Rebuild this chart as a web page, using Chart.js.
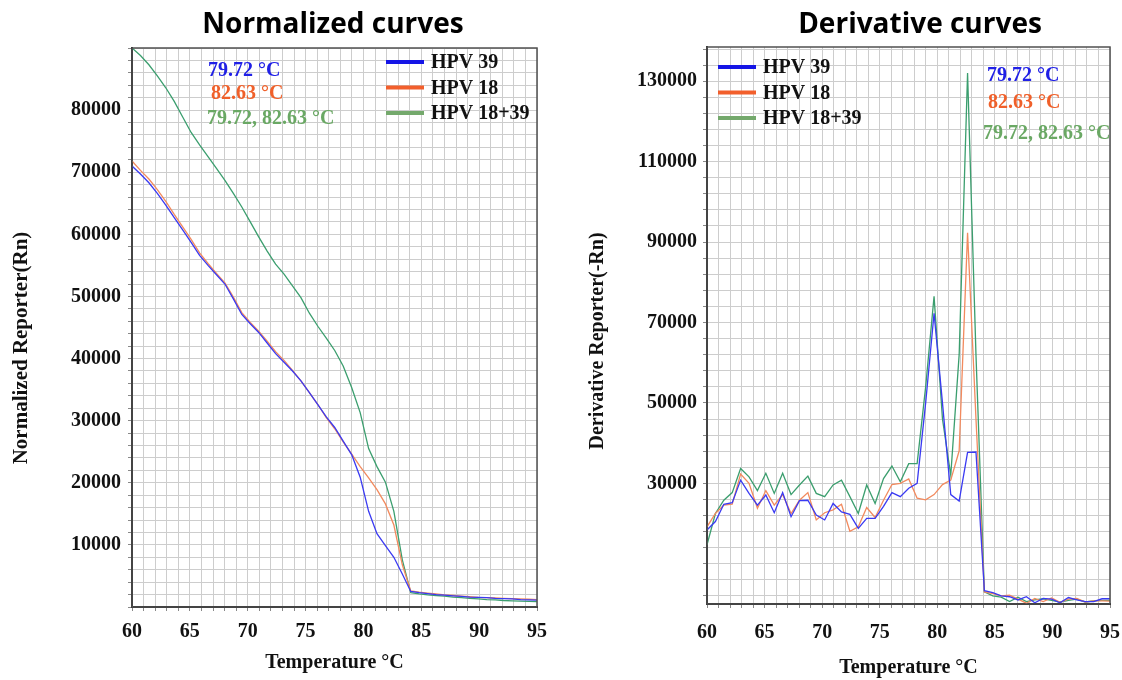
<!DOCTYPE html>
<html>
<head>
<meta charset="utf-8">
<script src="https://cdn.jsdelivr.net/npm/chart.js@4.4.1/dist/chart.umd.min.js"></script>
<style>
  body { margin: 0; background: #fff; }
  #wrap { position: relative; width: 1122px; height: 680px; }
  canvas { position: absolute; top: 0; }
  #norm-chart { left: 0; }
  #deriv-chart { left: 560px; }
</style>
</head>
<body>
<div id="wrap">
  <canvas id="norm-chart" width="560" height="680"></canvas>
  <canvas id="deriv-chart" width="562" height="680"></canvas>
</div>
<script>
// melt temperatures (°C)
const temps = [
  60.00, 60.73, 61.46, 62.19, 62.92, 63.65, 64.38, 65.11, 65.84, 66.57,
  67.30, 68.03, 68.76, 69.49, 70.22, 70.95, 71.68, 72.41, 73.14, 73.87,
  74.60, 75.33, 76.06, 76.79, 77.52, 78.25, 78.99, 79.72, 80.45, 81.17,
  81.90, 82.63, 83.36, 84.09, 84.82, 85.55, 86.28, 87.01, 87.74, 88.47,
  89.20, 89.93, 90.66, 91.39, 92.12, 92.85, 93.58, 94.31, 95.00,
];

const seriesNames = ["HPV 39", "HPV 18", "HPV 18+39"];
const tmLabels = ["79.72 °C", "82.63 °C", "79.72, 82.63 °C"];

// normalized reporter (Rn)
const normHpv39 = [
  71000, 69700, 68300, 66600, 64700, 62700, 60700, 58700, 56600, 55000,
  53500, 52000, 49600, 47100, 45600, 44200, 42500, 40800, 39400, 38000,
  36400, 34500, 32600, 30600, 28900, 26700, 24500, 20900, 15400, 11800,
  9900, 8000, 5300, 2500, 2300, 2150, 2000, 1900, 1800, 1700,
  1600, 1550, 1500, 1400, 1350, 1300, 1200, 1150, 1100,
];
const normHpv18 = [
  71800, 70300, 68900, 67200, 65300, 63200, 61200, 59200, 57000, 55300,
  53700, 52200, 49900, 47400, 45800, 44400, 42800, 41100, 39700, 38100,
  36400, 34500, 32600, 30500, 28700, 26600, 24600, 22600, 20800, 18900,
  16600, 13200, 6800, 2600, 2400, 2250, 2100, 1950, 1850, 1750,
  1650, 1550, 1500, 1450, 1400, 1350, 1300, 1250, 1200,
];
const normHpv1839 = [
  90000, 88800, 87300, 85500, 83600, 81400, 78900, 76400, 74400, 72500,
  70600, 68700, 66600, 64400, 62000, 59600, 57300, 55200, 53600, 51700,
  49800, 47300, 45200, 43300, 41300, 38800, 35300, 31300, 25500, 22600,
  20100, 15400, 7600, 2300, 2100, 1950, 1850, 1750, 1600, 1500,
  1400, 1300, 1200, 1150, 1050, 1000, 950, 900, 850,
];

// derivative reporter (-Rn)
const derivHpv39 = [
  18400, 20500, 24800, 25200, 30800, 27500, 24600, 27100, 22700, 27700,
  21700, 25700, 25800, 22100, 20900, 25000, 22900, 22300, 18800, 21300,
  21300, 24300, 27700, 26700, 28800, 30000, 50000, 72300, 50000, 27200,
  25600, 37700, 37800, 3300, 2800, 2000, 1800, 1000, 1800, 300,
  1400, 1200, 300, 1600, 1000, 600, 600, 1300, 1300,
];
const derivHpv18 = [
  19200, 22500, 24600, 24800, 32300, 30000, 23800, 28200, 24600, 27200,
  22500, 25800, 27700, 20900, 22700, 23400, 24800, 18100, 19200, 24000,
  21500, 25800, 29700, 30000, 31100, 26300, 25900, 27200, 29700, 30800,
  38100, 92300, 46000, 3000, 2600, 2000, 2200, 1200, 200, 1400,
  600, 1500, 400, 1200, 1400, 500, 800, 800, 700,
];
const derivHpv1839 = [
  14700, 22500, 25800, 27700, 33700, 31600, 28200, 32500, 27500, 32500,
  27200, 29600, 31800, 27500, 26700, 29600, 30800, 26700, 22500, 29600,
  25000, 31200, 34300, 30400, 34900, 34900, 54000, 76500, 46000, 32000,
  62000, 132000, 62000, 3000, 2000, 1700, 600, 1700, 600, 1000,
  1300, 900, 500, 900, 1200, 500, 800, 900, 900,
];

const xTickLabels = [60, 65, 70, 75, 80, 85, 90, 95];
const normTickLabels = [10000, 20000, 30000, 40000, 50000, 60000, 70000, 80000];
const derivTickLabels = [30000, 50000, 70000, 90000, 110000, 130000];

const lineColors = ["#3a3af2", "#f28a5e", "#3b9e6e"];
const keyColors = ["#1515e6", "#f25f2c", "#74a96c"];
const textColors = ["#2020e6", "#f0602a", "#6aa864"];
const gridColor = "#cdcdcd";
const serif = "'Liberation Serif', 'Times New Roman', serif";

function toPoints(values) {
  return values.map((v, i) => ({ x: temps[i], y: v }));
}

// titles, axis caption, key and Tm notes drawn over the plot
const panelText = {
  id: "panelText",
  afterDraw(chart, args, o) {
    const ctx = chart.ctx;
    const a = chart.chartArea;
    ctx.save();
    ctx.strokeStyle = "#505050";
    ctx.lineWidth = 1.5;
    ctx.strokeRect(a.left, a.top, a.right - a.left, a.bottom - a.top);

    ctx.fillStyle = "#000";
    ctx.textBaseline = "middle";
    ctx.textAlign = "center";
    ctx.font = "bold 28px 'Open Sans', sans-serif";
    ctx.fillText(o.title, o.titleX, o.titleY);

    ctx.save();
    ctx.translate(o.yTitleX, o.yTitleY);
    ctx.rotate(-Math.PI / 2);
    ctx.font = "bold " + o.yTitleSize + "px " + serif;
    ctx.fillStyle = "#111";
    ctx.fillText(o.yTitle, 0, 0);
    ctx.restore();

    ctx.textAlign = "left";
    ctx.font = "bold 20px " + serif;
    chart.data.datasets.forEach((ds, i) => {
      const y = o.keyY + i * o.keyGap;
      ctx.strokeStyle = keyColors[i];
      ctx.lineWidth = 4;
      ctx.beginPath();
      ctx.moveTo(o.keyX, y);
      ctx.lineTo(o.keyX + 38, y);
      ctx.stroke();
      ctx.fillStyle = "#111";
      ctx.fillText(ds.label, o.keyX + 45, y + 1);
    });

    tmLabels.forEach((t, i) => {
      ctx.fillStyle = textColors[i];
      ctx.fillText(t, o.tmX[i], o.tmY[i]);
    });
    ctx.restore();
  },
};

const tickFont = { family: serif, size: 20, weight: "bold" };

function makeChart(el, series, yScale, layout, text) {
  return new Chart(el, {
    type: "line",
    data: {
      datasets: series.map((vals, i) => ({
        label: seriesNames[i],
        data: toPoints(vals),
        borderColor: lineColors[i],
        borderWidth: 1.3,
        pointRadius: 0,
        tension: 0,
      })),
    },
    options: {
      responsive: false,
      animation: false,
      layout: { padding: layout.padding },
      plugins: {
        legend: { display: false },
        tooltip: { enabled: false },
        panelText: text,
      },
      scales: {
        x: {
          type: "linear",
          min: 60,
          max: 95,
          afterFit: (s) => {
            s.height = layout.xHeight;
            // end labels may spill past the plot edges
            s.paddingLeft = 0;
            s.paddingRight = 0;
          },
          grid: { color: gridColor, lineWidth: 1, tickLength: 4, tickColor: "#888" },
          border: { color: "#222", width: 2 },
          ticks: {
            stepSize: 1,
            autoSkip: false,
            maxRotation: 0,
            padding: layout.xPad,
            color: "#111",
            font: tickFont,
            callback: (v) => (xTickLabels.includes(v) ? String(v) : ""),
          },
          title: {
            display: true,
            text: "Temperature °C",
            color: "#111",
            font: tickFont,
            padding: { top: 0, bottom: layout.xTitlePad },
          },
        },
        y: Object.assign({
          afterFit: (s) => { s.width = layout.yWidth; },
          grid: { color: gridColor, lineWidth: 1, tickLength: 4, tickColor: "#888" },
          border: { color: "#222", width: 2 },
        }, yScale),
      },
    },
    plugins: [panelText],
  });
}

makeChart(
  document.getElementById("norm-chart"),
  [normHpv39, normHpv18, normHpv1839],
  {
    min: 0,
    max: 90000,
    ticks: {
      stepSize: 2000,
      autoSkip: false,
      padding: 7,
      color: "#111",
      font: tickFont,
      callback: (v) => (normTickLabels.includes(v) ? String(v) : ""),
    },
  },
  { padding: { top: 48, right: 23, bottom: 0, left: 0 }, yWidth: 132, xHeight: 73, xPad: 9, xTitlePad: 5 },
  {
    title: "Normalized curves", titleX: 333, titleY: 25,
    yTitle: "Normalized Reporter(Rn)", yTitleX: 22, yTitleY: 348, yTitleSize: 21,
    keyX: 386, keyY: 62, keyGap: 25.5,
    tmX: [208, 211, 207], tmY: [71, 94, 119],
  }
);

// gridlines of the derivative panel sit at 2000 + n*4000
const derivGrid = [];
for (let v = 2000; v <= 138000; v += 4000) derivGrid.push(v);

makeChart(
  document.getElementById("deriv-chart"),
  [derivHpv39, derivHpv18, derivHpv1839],
  {
    min: 0,
    max: 138500,
    afterBuildTicks: (s) => { s.ticks = derivGrid.map((v) => ({ value: v })); },
    ticks: {
      autoSkip: false,
      padding: 6,
      color: "#111",
      font: tickFont,
      callback: (v) => (derivTickLabels.includes(v) ? String(v) : ""),
    },
  },
  { padding: { top: 47, right: 12, bottom: 0, left: 0 }, yWidth: 147, xHeight: 76, xPad: 13, xTitlePad: 0 },
  {
    title: "Derivative curves", titleX: 360, titleY: 25,
    yTitle: "Derivative Reporter(-Rn)", yTitleX: 38, yTitleY: 341, yTitleSize: 20,
    keyX: 158, keyY: 67, keyGap: 25.5,
    tmX: [427, 428, 423], tmY: [76, 103, 134],
  }
);
</script>
</body>
</html>
